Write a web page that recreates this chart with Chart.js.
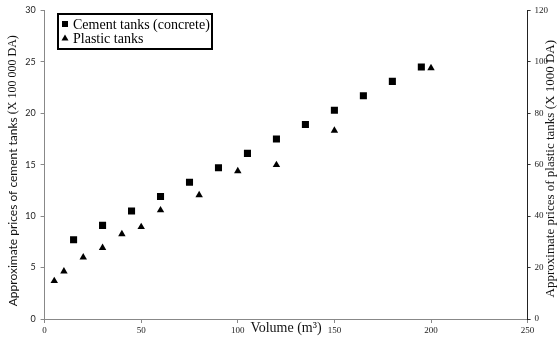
<!DOCTYPE html>
<html>
<head>
<meta charset="utf-8">
<script src="https://cdn.jsdelivr.net/npm/chart.js@4/dist/chart.umd.min.js"></script>
<style>
  html, body { margin: 0; padding: 0; background: #fff; }
  #wrap { position: relative; width: 559px; height: 340px; }
</style>
</head>
<body>
<div id="wrap"><canvas id="c" width="559" height="340"></canvas></div>
<script>
// Cement (concrete) tanks: volume in m³ and price in units of 100 000 DA
const cementVolumes = [15, 30, 45, 60, 75, 90, 105, 120, 135, 150, 165, 180, 195];
const cementPrices  = [7.7, 9.1, 10.5, 11.9, 13.3, 14.7, 16.1, 17.5, 18.9, 20.3, 21.7, 23.1, 24.5];

// Plastic tanks: volume in m³ and price in units of 1000 DA
const plasticVolumes = [5, 10, 20, 30, 40, 50, 60, 80, 100, 120, 150, 200];
const plasticPrices  = [14.8, 18.5, 24.0, 27.7, 33.0, 35.8, 42.3, 48.2, 57.5, 59.9, 73.3, 97.6];

// Axis ticks
const volumeTicks  = [0, 50, 100, 150, 200, 250];
const cementTicks  = [0, 5, 10, 15, 20, 25, 30];
const plasticTicks = [0, 20, 40, 60, 80, 100, 120];

const labels = {
  cement: 'Cement tanks (concrete)',
  plastic: 'Plastic tanks',
  x: 'Volume (m³)',
  left: [['Approximate prices of cement tanks ', 'sans'], ['(X 100 000 DA)', 'serif']],
  right: [['Approximate prices of plastic tanks (X 1000 DA)', 'serif']]
};

const SERIF = '"Liberation Serif", "DejaVu Serif", serif';
const SANS = 'Lato, "Open Sans", sans-serif';

const toPoints = (xs, ys) => xs.map((x, i) => ({ x, y: ys[i] }));

// Draws a run of differently-styled text pieces, rotated, centred on (cx, cy)
function drawRun(ctx, parts, cx, cy, size, rotation) {
  ctx.save();
  ctx.translate(cx, cy);
  ctx.rotate(rotation);
  ctx.textBaseline = 'middle';
  ctx.textAlign = 'left';
  ctx.fillStyle = '#111';
  const fontFor = kind => size + 'px ' + (kind === 'serif' ? SERIF : SANS);
  let total = 0;
  parts.forEach(([t, k]) => { ctx.font = fontFor(k); total += ctx.measureText(t).width; });
  let x = -total / 2;
  parts.forEach(([t, k]) => { ctx.font = fontFor(k); ctx.fillText(t, x, 0); x += ctx.measureText(t).width; });
  ctx.restore();
}

const titlesAndLegend = {
  id: 'titlesAndLegend',
  afterDraw(chart) {
    const ctx = chart.ctx;
    const area = chart.chartArea;
    const midY = (area.top + area.bottom) / 2;

    // Axis titles
    drawRun(ctx, labels.left, 13, midY + 6, 12, -Math.PI / 2);
    drawRun(ctx, labels.right, 551, midY + 4, 13, -Math.PI / 2);
    ctx.save();
    ctx.font = '14px ' + SERIF;
    ctx.fillStyle = '#111';
    ctx.textAlign = 'center';
    ctx.textBaseline = 'middle';
    ctx.fillText(labels.x, 286, 328);
    ctx.restore();

    // Legend box
    const bx = 58, by = 14, bw = 154, bh = 35;
    ctx.save();
    ctx.strokeStyle = '#000';
    ctx.lineWidth = 2;
    ctx.strokeRect(bx, by, bw, bh);
    ctx.font = '14px ' + SERIF;
    ctx.fillStyle = '#000';
    ctx.textBaseline = 'middle';
    ctx.textAlign = 'left';
    const rows = chart.data.datasets.map(d => ({ text: d.label, style: d.pointStyle }));
    rows.forEach((r, i) => {
      const y = by + 10 + i * 14;
      const mx = bx + 7;
      ctx.beginPath();
      if (r.style === 'rect') {
        ctx.rect(mx - 3, y - 3, 6, 6);
      } else {
        ctx.moveTo(mx, y - 3.5);
        ctx.lineTo(mx + 3.5, y + 2.5);
        ctx.lineTo(mx - 3.5, y + 2.5);
        ctx.closePath();
      }
      ctx.fill();
      ctx.fillText(r.text, bx + 15, y + 1);
    });
    ctx.restore();
  }
};

new Chart(document.getElementById('c'), {
  type: 'scatter',
  data: {
    datasets: [
      {
        label: labels.cement,
        data: toPoints(cementVolumes, cementPrices),
        yAxisID: 'y',
        pointStyle: 'rect',
        pointRadius: 5,
        pointBackgroundColor: '#000',
        pointBorderColor: '#000',
        pointBorderWidth: 0
      },
      {
        label: labels.plastic,
        data: toPoints(plasticVolumes, plasticPrices),
        yAxisID: 'y2',
        pointStyle: 'triangle',
        pointRadius: 4.3,
        pointBackgroundColor: '#000',
        pointBorderColor: '#000',
        pointBorderWidth: 0
      }
    ]
  },
  options: {
    responsive: false,
    animation: false,
    events: [],
    layout: { padding: { top: 10, left: 0, right: 0, bottom: 0 } },
    plugins: { legend: { display: false }, tooltip: { enabled: false } },
    scales: {
      x: {
        type: 'linear',
        min: 0, max: 250,
        afterBuildTicks: s => { s.ticks = volumeTicks.map(v => ({ value: v })); },
        afterFit: s => { s.height = 21; },
        ticks: { font: { family: SERIF, size: 9 }, color: '#222', padding: 2, maxRotation: 0 },
        grid: { drawOnChartArea: false, tickLength: 4, color: '#888' },
        border: { color: '#888', width: 1 }
      },
      y: {
        position: 'left',
        min: 0, max: 30,
        afterBuildTicks: s => { s.ticks = cementTicks.map(v => ({ value: v })); },
        afterFit: s => { s.width = 44.6; },
        ticks: { font: { family: SANS, size: 9 }, color: '#222', padding: 5 },
        grid: { drawOnChartArea: false, tickLength: 4, color: '#888' },
        border: { color: '#888', width: 1 }
      },
      y2: {
        position: 'right',
        min: 0, max: 120,
        afterBuildTicks: s => { s.ticks = plasticTicks.map(v => ({ value: v })); },
        afterFit: s => { s.width = 31.4; },
        ticks: { font: { family: SERIF, size: 9 }, color: '#222', padding: 4 },
        grid: { drawOnChartArea: false, tickLength: 3, color: '#333' },
        border: { color: '#222', width: 1 }
      }
    }
  },
  plugins: [titlesAndLegend]
});
</script>
</body>
</html>
